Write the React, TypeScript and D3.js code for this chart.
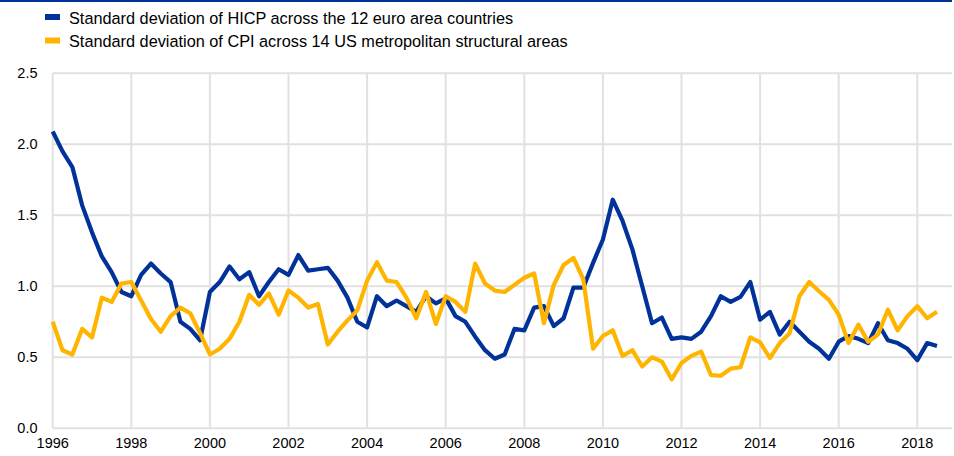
import React, { useEffect, useRef } from 'react'
import * as d3 from 'd3'

// quarterly observations, 1996 Q1 to 2018 Q3
const startYear = 1996
const hicpStd = [
    2.09, 1.95, 1.84, 1.57, 1.38, 1.21, 1.1, 0.96, 0.93, 1.08, 1.16, 1.09, 1.03, 0.75, 0.7, 0.62,
    0.96, 1.03, 1.14, 1.05, 1.1, 0.93, 1.03, 1.12, 1.08, 1.22, 1.11, 1.12, 1.13, 1.04, 0.92, 0.75,
    0.71, 0.93, 0.86, 0.9, 0.86, 0.82, 0.93, 0.88, 0.915, 0.79, 0.75, 0.645, 0.55, 0.49, 0.52, 0.7,
    0.69, 0.85, 0.86, 0.72, 0.775, 0.99, 0.99, 1.165, 1.33, 1.61, 1.46, 1.26, 1.0, 0.74, 0.78, 0.63,
    0.64, 0.63, 0.68, 0.79, 0.93, 0.89, 0.925, 1.03, 0.765, 0.82, 0.66, 0.75, 0.68, 0.61, 0.56, 0.49,
    0.61, 0.65, 0.63, 0.6, 0.74, 0.62, 0.6, 0.56, 0.48, 0.6, 0.58,
]
const cpiStd = [
    0.75, 0.55, 0.52, 0.7, 0.64, 0.92, 0.89, 1.02, 1.03, 0.9, 0.77, 0.68, 0.79, 0.85, 0.81, 0.67,
    0.52, 0.56, 0.63, 0.75, 0.94, 0.87, 0.95, 0.8, 0.97, 0.92, 0.85, 0.875, 0.59, 0.68, 0.76, 0.83,
    1.04, 1.17, 1.04, 1.03, 0.92, 0.775, 0.96, 0.735, 0.93, 0.89, 0.82, 1.16, 1.02, 0.97, 0.96, 1.01,
    1.06, 1.09, 0.74, 1.01, 1.15, 1.2, 1.05, 0.56, 0.65, 0.69, 0.51, 0.55, 0.435, 0.5, 0.47, 0.345,
    0.46, 0.51, 0.54, 0.375, 0.37, 0.42, 0.43, 0.64, 0.605, 0.495, 0.6, 0.67, 0.93, 1.03, 0.965, 0.905,
    0.8, 0.6, 0.73, 0.61, 0.66, 0.835, 0.69, 0.79, 0.86, 0.775, 0.82,
]
const seriesNames = [
    'Standard deviation of HICP across the 12 euro area countries',
    'Standard deviation of CPI across 14 US metropolitan structural areas',
]
const seriesColors = ['#003299', '#ffb400']
const xTicks = [1996, 1998, 2000, 2002, 2004, 2006, 2008, 2010, 2012, 2014, 2016, 2018]
const yTicks = [0, 0.5, 1, 1.5, 2, 2.5]

const App = () => {
    const svgRef = useRef(null)

    useEffect(() => {
        document.body.style.margin = '0'
        const width = 954
        const height = 456
        const fontFamily = '"Liberation Sans", Arial, sans-serif'
        const gridColor = '#e1e1e1'

        const svg = d3.select(svgRef.current)
        svg.selectAll('*').remove()
        svg.attr('width', width).attr('height', height)

        const x = d3.scaleLinear().domain([1996, 2018.875]).range([52.7, 951.7])
        const y = d3.scaleLinear().domain([0, 2.5]).range([428.3, 73.3])

        // top rule
        svg.append('line')
            .attr('x1', 0)
            .attr('x2', 952)
            .attr('y1', 1)
            .attr('y2', 1)
            .attr('stroke', '#003299')
            .attr('stroke-width', 2)

        // legend
        const legend = svg.append('g')
        seriesNames.forEach((name, i) => {
            const g = legend.append('g').attr('transform', `translate(45,${17 + i * 23.5})`)
            g.append('rect')
                .attr('x', 0)
                .attr('y', -3)
                .attr('width', 15)
                .attr('height', 6)
                .attr('fill', seriesColors[i])
            g.append('text')
                .attr('x', 24)
                .attr('y', 6.5)
                .style('font-family', fontFamily)
                .style('font-size', '16.3px')
                .style('fill', '#000')
                .text(name)
        })

        // grid
        const grid = svg.append('g')
        grid.selectAll('line.h')
            .data(yTicks)
            .enter()
            .append('line')
            .attr('x1', x(1996))
            .attr('x2', x.range()[1])
            .attr('y1', (d) => y(d))
            .attr('y2', (d) => y(d))
            .attr('stroke', gridColor)
            .attr('stroke-width', 2)
        grid.selectAll('line.v')
            .data(xTicks)
            .enter()
            .append('line')
            .attr('x1', (d) => x(d))
            .attr('x2', (d) => x(d))
            .attr('y1', y(2.5))
            .attr('y2', y(0))
            .attr('stroke', gridColor)
            .attr('stroke-width', 2)

        // tick labels
        svg.append('g')
            .selectAll('text')
            .data(yTicks)
            .enter()
            .append('text')
            .attr('x', 37.5)
            .attr('y', (d) => y(d))
            .attr('dy', '0.35em')
            .attr('text-anchor', 'end')
            .style('font-family', fontFamily)
            .style('font-size', '14.5px')
            .text((d) => d3.format('.1f')(d))
        svg.append('g')
            .selectAll('text')
            .data(xTicks)
            .enter()
            .append('text')
            .attr('x', (d) => x(d))
            .attr('y', 448)
            .attr('text-anchor', 'middle')
            .style('font-family', fontFamily)
            .style('font-size', '14.5px')
            .text((d) => d)

        // lines
        const line = d3
            .line()
            .x((d, i) => x(startYear + i / 4))
            .y((d) => y(d))
        ;[hicpStd, cpiStd].forEach((values, i) => {
            svg.append('path')
                .datum(values)
                .attr('d', line)
                .attr('fill', 'none')
                .attr('stroke', seriesColors[i])
                .attr('stroke-width', 4.2)
                .attr('stroke-linejoin', 'round')
        })
    }, [])

    return <svg ref={svgRef} style={{ display: 'block' }}></svg>
}

export default App
